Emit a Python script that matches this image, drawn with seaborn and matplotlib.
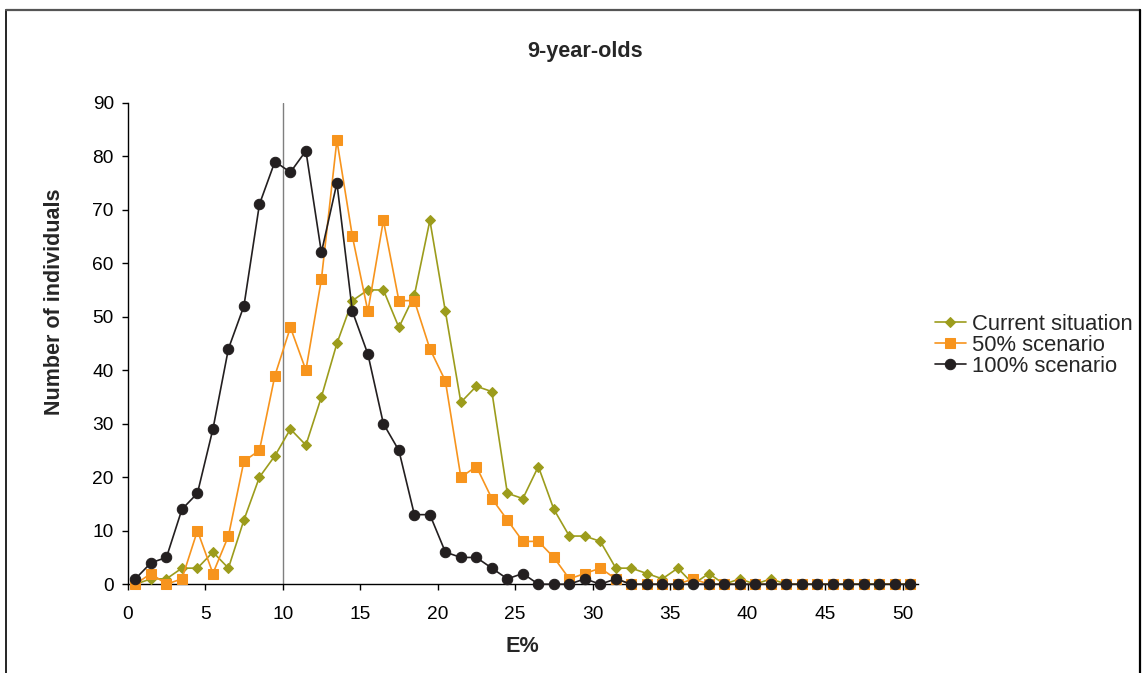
import numpy as np
import matplotlib
matplotlib.use("Agg")
import matplotlib.pyplot as plt
from matplotlib.lines import Line2D
import seaborn as sns

# ---- data ----
e_pct = np.arange(0.5, 51, 1.0)  # bin centres 0.5 ... 50.5
current = [0, 1, 1, 3, 3, 6, 3, 12, 20, 24, 29, 26, 35, 45, 53, 55, 55, 48, 54, 68,
           51, 34, 37, 36, 17, 16, 22, 14, 9, 9, 8, 3, 3, 2, 1, 3, 0, 2, 0, 1,
           0, 1, 0, 0, 0, 0, 0, 0, 0, 0, 0]
scen50 = [0, 2, 0, 1, 10, 2, 9, 23, 25, 39, 48, 40, 57, 83, 65, 51, 68, 53, 53, 44,
          38, 20, 22, 16, 12, 8, 8, 5, 1, 2, 3, 1, 0, 0, 0, 0, 1, 0, 0, 0,
          0, 0, 0, 0, 0, 0, 0, 0, 0, 0, 0]
scen100 = [1, 4, 5, 14, 17, 29, 44, 52, 71, 79, 77, 81, 62, 75, 51, 43, 30, 25, 13, 13,
           6, 5, 5, 3, 1, 2, 0, 0, 0, 1, 0, 1, 0, 0, 0, 0, 0, 0, 0, 0,
           0, 0, 0, 0, 0, 0, 0, 0, 0, 0, 0]
series_names = ["Current situation", "50% scenario", "100% scenario"]
x_ticks = [0, 5, 10, 15, 20, 25, 30, 35, 40, 45, 50]
y_ticks = [0, 10, 20, 30, 40, 50, 60, 70, 80, 90]

sns.set_style("white")
plt.rcParams["font.family"] = ["Liberation Sans", "DejaVu Sans"]

W, H = 1144, 673
fig = plt.figure(figsize=(W / 100, H / 100), dpi=100)
ax = fig.add_axes([127.7 / W, 1 - 584.2 / H, (918 - 127.7) / W, (584.2 - 102.7) / H])

ax.axvline(10, color="#7f7f7f", lw=1.0, zorder=1)

styles = [
    (current, "#9c9c1c", "D", 5.2),
    (scen50, "#f7941d", "s", 7.0),
    (scen100, "#231f20", "o", 7.5),
]
for (vals, col, mk, ms), name in zip(styles, series_names):
    sns.lineplot(x=e_pct, y=vals, ax=ax, color=col, marker=mk, markersize=ms,
                 markeredgecolor=col, markerfacecolor=col, lw=1.2, label=name,
                 clip_on=False, zorder=3)

ax.set_xlim(0, 51)
ax.set_ylim(0, 90)
ax.set_xticks(x_ticks)
ax.set_yticks(y_ticks)
ax.tick_params(axis="both", which="major", direction="out", length=4, width=1,
               labelsize=13.8, colors="black")
ax.tick_params(axis="x", bottom=True, pad=12)
ax.tick_params(axis="y", left=True, pad=6)
for s in ["top", "right"]:
    ax.spines[s].set_visible(False)
for s in ["left", "bottom"]:
    ax.spines[s].set_color("black")
    ax.spines[s].set_linewidth(1.0)
ax.set_xlabel("")
ax.set_ylabel("")

fig.text(585 / W, 1 - 52 / H, "9-year-olds", ha="center", va="center",
         fontsize=15.6, fontweight="bold")
fig.text(522 / W, 1 - 646 / H, "E%", ha="center", va="center",
         fontsize=15.6, fontweight="bold")
fig.text(55 / W, 1 - 302 / H, "Number of individuals", ha="center", va="center",
         rotation=90, fontsize=15.5, fontweight="bold")

leg = ax.legend(loc="center left", bbox_to_anchor=(935 / W, 1 - 345.5 / H),
                bbox_transform=fig.transFigure, frameon=False, fontsize=15.8,
                labelspacing=0.0, handlelength=1.4, handletextpad=0.3,
                borderpad=0.0, borderaxespad=0.0)

# figure border
fig.add_artist(Line2D([6 / W, 6 / W], [0, 1 - 10 / H], transform=fig.transFigure,
                      color="black", lw=1.2))
fig.add_artist(Line2D([6 / W, 1140 / W], [1 - 10 / H, 1 - 10 / H],
                      transform=fig.transFigure, color="#555555", lw=1.6))
fig.add_artist(Line2D([1140 / W, 1140 / W], [0, 1 - 10 / H], transform=fig.transFigure,
                      color="black", lw=1.6))

fig.savefig("out.png", dpi=100)
